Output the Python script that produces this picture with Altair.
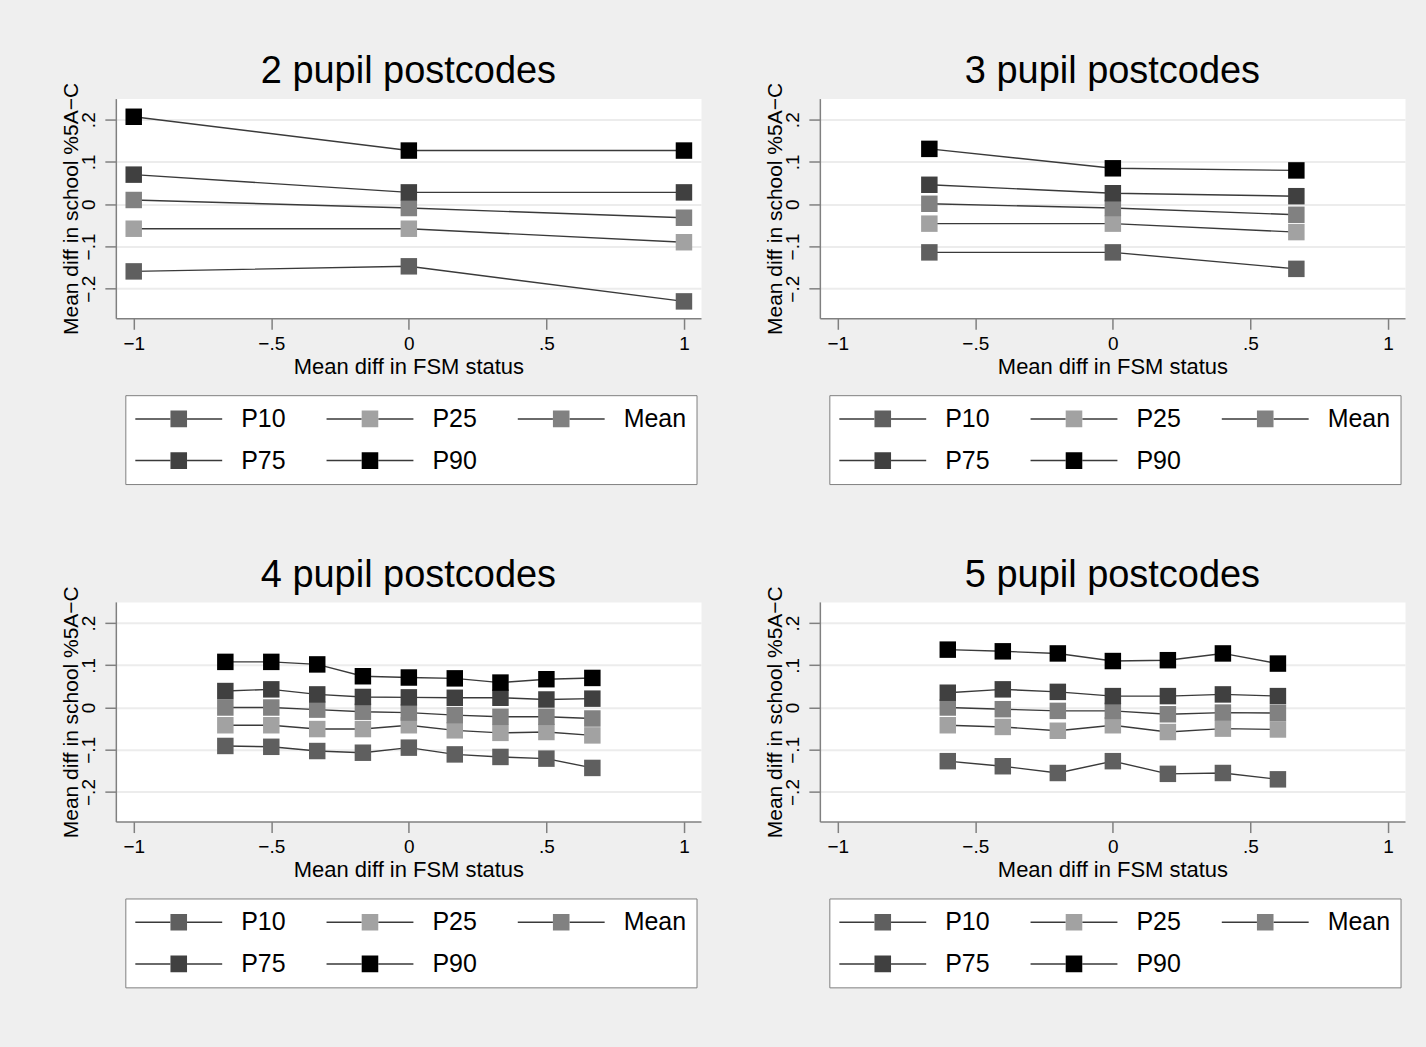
import altair as alt
import pandas as pd

FONT = "Liberation Sans"

series = ["P10", "P25", "Mean", "P75", "P90"]
marker_colors = ["#5f5f5f", "#a2a2a2", "#818181", "#404040", "#000000"]
line_color = "#3a3a3a"

panel_titles = ["2 pupil postcodes", "3 pupil postcodes",
                "4 pupil postcodes", "5 pupil postcodes"]

x_ticks = [-1, -0.5, 0, 0.5, 1]
y_ticks = [-0.2, -0.1, 0, 0.1, 0.2]

# ---- 2 pupil postcodes
x_2 = [-1.0, 0.0, 1.0]
p10_2 = [-0.159, -0.147, -0.230]
p25_2 = [-0.058, -0.058, -0.090]
mean_2 = [0.010, -0.009, -0.032]
p75_2 = [0.070, 0.028, 0.028]
p90_2 = [0.207, 0.127, 0.127]

# ---- 3 pupil postcodes
x_3 = [-0.667, 0.0, 0.667]
p10_3 = [-0.114, -0.114, -0.153]
p25_3 = [-0.046, -0.046, -0.066]
mean_3 = [0.001, -0.009, -0.025]
p75_3 = [0.046, 0.026, 0.019]
p90_3 = [0.131, 0.085, 0.080]

# ---- 4 pupil postcodes
x_4 = [-0.667, -0.5, -0.333, -0.167, 0.0, 0.167, 0.333, 0.5, 0.667]
p10_4 = [-0.091, -0.093, -0.103, -0.107, -0.095, -0.111, -0.117, -0.121, -0.143]
p25_4 = [-0.042, -0.042, -0.051, -0.051, -0.042, -0.054, -0.060, -0.058, -0.066]
mean_4 = [0.000, 0.000, -0.005, -0.010, -0.012, -0.018, -0.022, -0.022, -0.026]
p75_4 = [0.039, 0.043, 0.031, 0.025, 0.024, 0.023, 0.023, 0.019, 0.021]
p90_4 = [0.108, 0.108, 0.102, 0.074, 0.071, 0.069, 0.059, 0.067, 0.070]

# ---- 5 pupil postcodes
x_5 = [-0.6, -0.4, -0.2, 0.0, 0.2, 0.4, 0.6]
p10_5 = [-0.127, -0.139, -0.155, -0.127, -0.157, -0.155, -0.170]
p25_5 = [-0.042, -0.046, -0.055, -0.042, -0.058, -0.050, -0.052]
mean_5 = [0.000, -0.004, -0.008, -0.008, -0.016, -0.012, -0.013]
p75_5 = [0.035, 0.043, 0.037, 0.027, 0.027, 0.031, 0.027]
p90_5 = [0.137, 0.133, 0.128, 0.110, 0.112, 0.128, 0.104]

panels = [
    (panel_titles[0], x_2, [p10_2, p25_2, mean_2, p75_2, p90_2]),
    (panel_titles[1], x_3, [p10_3, p25_3, mean_3, p75_3, p90_3]),
    (panel_titles[2], x_4, [p10_4, p25_4, mean_4, p75_4, p90_4]),
    (panel_titles[3], x_5, [p10_5, p25_5, mean_5, p75_5, p90_5]),
]

label_expr = "datum.value == 0 ? '0' : replace(format(datum.value, '~g'), '0.', '.')"

x_axis = alt.Axis(
    values=x_ticks, labelExpr=label_expr, tickSize=11, labelPadding=5,
    labelFontSize=19, labelFlush=False, title="Mean diff in FSM status",
    titleFontSize=22, titlePadding=3, grid=False,
)
y_axis = alt.Axis(
    values=y_ticks, labelExpr=label_expr, labelAngle=270, labelAlign="center",
    labelBaseline="bottom", labelFontSize=19, tickSize=11, labelPadding=6,
    labelFlush=False, title="Mean diff in school %5A\u2212C", titleFontSize=21,
    titlePadding=-2, grid=True, gridColor="#ececec", gridWidth=2,
)

# legend symbols: a line with a gap for the marker, and the marker square
# (the marker legend also carries the same invisible line so both lay out alike)
LINE_PATH = "M-1.08,0H1.736M3.064,0H5.88"
SQUARE_PATH = "M-1.08,0H5.88M1.736,-0.664H3.064V0.664H1.736Z"

common_legend = dict(
    title=None, orient="none", legendX=9.5, legendY=297, direction="horizontal",
    columns=3, symbolSize=625, symbolStrokeWidth=1.5, labelFont=FONT,
    labelFontSize=25, labelColor="black", labelOffset=79, columnPadding=19.5,
    rowPadding=15, padding=10, gridAlign="all", symbolOffset=0, labelLimit=300,
)
leg_lines = alt.Legend(symbolType=LINE_PATH, fillColor="white",
                       strokeColor="#808080", **common_legend)
leg_marks = alt.Legend(symbolType=SQUARE_PATH,
                       symbolStrokeColor="transparent", labelOpacity=0,
                       **common_legend)


def make_panel(title, xs, vals):
    rows = []
    for k, (s, ys) in enumerate(zip(series, vals)):
        for x, y in zip(xs, ys):
            rows.append({"x": x, "y": y, "series": s, "seriesm": s, "k": k})
    df = pd.DataFrame(rows)
    base = alt.Chart(df).encode(
        x=alt.X("x:Q", scale=alt.Scale(domain=[-1.065, 1.062], nice=False, zero=False),
                axis=x_axis),
        y=alt.Y("y:Q", scale=alt.Scale(domain=[-0.270, 0.250], nice=False, zero=False),
                axis=y_axis),
    )
    lines = base.mark_line(strokeWidth=1.4).encode(
        stroke=alt.Stroke("series:N", sort=series,
                          scale=alt.Scale(domain=series, range=[line_color] * 5),
                          legend=leg_lines),
    )
    squares = base.mark_square(size=272, opacity=1, strokeWidth=0).encode(
        fill=alt.Fill("seriesm:N", sort=series,
                      scale=alt.Scale(range=marker_colors),
                      legend=leg_marks),
        order=alt.Order("k:Q"),
    )
    return alt.layer(lines, squares).properties(
        width=586, height=220,
        title=alt.TitleParams(title, fontSize=38, font=FONT, fontWeight="normal",
                              color="black", anchor="middle", offset=-9,
                              frame="group"),
    )


charts = [make_panel(*p) for p in panels]

chart = alt.concat(
    *charts, columns=2, spacing={"row": 71, "column": 62}
).resolve_scale(
    x="independent", y="independent", stroke="independent", fill="independent"
).resolve_legend(
    stroke="independent", fill="independent"
).resolve_axis(
    x="independent", y="independent"
).properties(
    background="#efefef",
    padding={"left": 60, "top": 52, "right": 20, "bottom": 58},
).configure_view(
    fill="white", stroke="transparent"
).configure_axis(
    domainColor="#808080", tickColor="#808080", domainWidth=1.5, tickWidth=1.5,
    labelFont=FONT, titleFont=FONT, labelColor="black", titleColor="black",
    titleFontWeight="normal",
)

chart.save("out.html", embed_options={"renderer": "svg", "actions": False})
